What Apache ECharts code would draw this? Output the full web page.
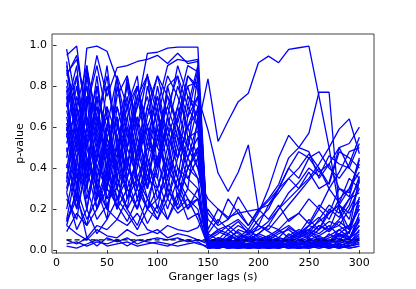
<!DOCTYPE html>
<html>
<head>
<meta charset="utf-8">
<script src="https://cdn.jsdelivr.net/npm/echarts@6/dist/echarts.min.js"></script>
<style>
  html, body { margin: 0; padding: 0; background: #fff; }
  #grangerChart { width: 416px; height: 289px; }
</style>
</head>
<body>
<div id="grangerChart"></div>
<script>
// lags in seconds (x)
const lags = [10, 20, 30, 40, 50, 60, 70, 80, 90, 100, 110, 120, 130, 140, 150,
  160, 170, 180, 190, 200, 210, 220, 230, 240, 250, 260, 270, 280, 290, 300];

const xTicks = [0, 50, 100, 150, 200, 250, 300];
const yTicks = [0, 0.2, 0.4, 0.6, 0.8, 1.0];

// significance threshold
const alpha = 0.05;

// p-values, one row per pair
const pValueRuns = [
  [.95, .995, .60, .40, .55, .70, .50, .70, .96, .965, .985, .99, .99, .99, .03, .01, .02, .01, .02, .03, .01, .02, .01, .02, .04, .02, .01, .03, .02, .05],
  [.92, .50, .985, .995, .97, .83, .60, .35, .50, .70, .90, .93, .92, .93, .02, .04, .03, .05, .02, .01, .02, .03, .06, .08, .12, .10, .18, .22, .30, .42],
  [.86, .93, .70, .95, .75, .89, .90, .92, .93, .95, .91, .96, .91, .92, .01, .02, .01, .01, .02, .01, .01, .02, .01, .01, .02, .03, .02, .01, .02, .03],
  [.75, .30, .85, .55, .20, .45, .82, .60, .86, .40, .80, .85, .70, .90, .05, .08, .12, .15, .10, .06, .04, .03, .05, .07, .10, .05, .03, .08, .12, .20],
  [.40, .65, .30, .80, .55, .35, .60, .45, .70, .55, .75, .62, .80, .60, .835, .53, .63, .724, .765, .914, .946, .914, .979, .987, .995, .75, .50, .20, .05, .15],
  [.55, .80, .45, .25, .60, .85, .40, .30, .55, .75, .50, .35, .65, .75, .586, .376, .286, .38, .513, .197, .25, .32, .45, .50, .48, .35, .42, .30, .28, .45],
  [.98, .70, .35, .60, .90, .50, .25, .45, .80, .60, .30, .55, .85, .80, .02, .01, .03, .02, .01, .02, .03, .01, .02, .05, .03, .02, .04, .06, .03, .10],
  [.65, .40, .90, .30, .15, .55, .70, .85, .40, .20, .45, .70, .50, .85, .06, .10, .08, .12, .09, .07, .05, .08, .10, .06, .12, .20, .15, .25, .30, .38],
  [.50, .20, .40, .75, .35, .20, .50, .80, .60, .35, .65, .90, .75, .70, .01, .03, .02, .04, .03, .02, .04, .02, .03, .04, .02, .05, .03, .02, .04, .06],
  [.30, .55, .80, .50, .25, .40, .65, .35, .20, .45, .60, .40, .30, .65, .04, .02, .06, .03, .05, .08, .06, .04, .07, .10, .08, .15, .22, .18, .25, .33],
  [.88, .60, .25, .45, .70, .30, .55, .75, .50, .80, .55, .25, .45, .55, .03, .05, .02, .04, .06, .03, .05, .02, .04, .03, .05, .07, .04, .10, .06, .14],
  [.45, .75, .55, .20, .40, .65, .30, .20, .35, .55, .35, .60, .40, .50, .10, .20, .15, .26, .18, .12, .22, .30, .40, .35, .45, .48, .40, .35, .42, .55],
  [.62, .35, .50, .85, .45, .75, .85, .55, .30, .65, .85, .75, .60, .45, .02, .03, .05, .02, .03, .01, .03, .05, .02, .04, .06, .03, .08, .05, .09, .22],
  [.20, .45, .65, .35, .50, .25, .35, .60, .75, .50, .40, .30, .55, .40, .18, .12, .15, .20, .12, .19, .24, .30, .35, .40, .47, .40, .32, .48, .45, .40],
  [.70, .90, .40, .65, .30, .50, .75, .40, .65, .85, .65, .50, .35, .30, .01, .02, .01, .03, .01, .02, .01, .03, .02, .01, .03, .02, .01, .02, .01, .02],
  [.35, .60, .20, .45, .80, .60, .45, .25, .45, .30, .50, .65, .80, .82, .05, .03, .08, .05, .07, .04, .06, .09, .12, .08, .15, .10, .20, .16, .25, .28],
  [.80, .55, .75, .25, .35, .80, .55, .70, .85, .70, .25, .45, .60, .75, .02, .01, .02, .04, .01, .02, .01, .02, .03, .02, .01, .02, .03, .02, .04, .08],
  [.15, .40, .30, .55, .65, .35, .20, .50, .30, .60, .70, .55, .45, .35, .25, .20, .16, .18, .19, .20, .22, .28, .35, .30, .38, .30, .33, .50, .40, .35],
  [.58, .85, .50, .70, .40, .25, .40, .65, .45, .25, .35, .20, .30, .25, .03, .04, .03, .05, .04, .03, .06, .04, .05, .08, .06, .10, .14, .12, .20, .30],
  [.25, .15, .45, .30, .20, .40, .30, .20, .40, .35, .20, .35, .25, .20, .01, .01, .02, .01, .01, .02, .01, .01, .02, .01, .02, .01, .02, .01, .03, .05],
  [.90, .65, .80, .35, .60, .45, .70, .80, .55, .40, .60, .80, .65, .88, .08, .05, .10, .06, .08, .05, .07, .10, .06, .09, .07, .12, .09, .14, .10, .24],
  [.42, .25, .60, .40, .30, .70, .50, .35, .25, .40, .55, .45, .70, .60, .02, .04, .02, .03, .05, .02, .04, .03, .08, .05, .07, .12, .10, .15, .22, .36],
  [.68, .45, .20, .50, .70, .55, .25, .40, .70, .85, .75, .60, .50, .70, .04, .06, .05, .07, .06, .05, .04, .06, .05, .07, .10, .08, .12, .07, .09, .16],
  [.12, .30, .15, .25, .40, .20, .30, .45, .25, .15, .30, .20, .25, .15, .02, .05, .03, .06, .10, .18, .30, .45, .56, .50, .57, .77, .77, .20, .10, .35],
  [.28, .50, .35, .60, .25, .30, .45, .25, .35, .30, .45, .30, .20, .30, .01, .02, .03, .02, .03, .04, .02, .03, .05, .03, .04, .02, .05, .03, .06, .12],
  [.78, .35, .60, .80, .50, .65, .35, .55, .40, .60, .35, .50, .75, .65, .06, .09, .07, .05, .08, .10, .14, .20, .28, .33, .40, .36, .46, .42, .40, .52],
  [.52, .70, .90, .60, .85, .50, .60, .30, .20, .25, .40, .65, .85, .78, .03, .02, .04, .03, .02, .04, .03, .02, .04, .03, .05, .04, .06, .08, .05, .18],
  [.38, .20, .55, .70, .45, .30, .20, .30, .50, .45, .25, .40, .35, .45, .02, .03, .01, .02, .03, .02, .05, .03, .02, .03, .02, .04, .03, .05, .04, .07],
  [.14, .25, .12, .35, .20, .15, .25, .35, .20, .30, .15, .25, .40, .35, .01, .02, .04, .02, .05, .08, .12, .20, .25, .30, .35, .42, .50, .59, .64, .47],
  [.60, .30, .70, .90, .65, .40, .85, .60, .35, .55, .70, .85, .55, .58, .05, .04, .06, .09, .05, .08, .12, .10, .15, .18, .13, .22, .18, .30, .26, .44],
  [.85, .95, .65, .45, .30, .60, .80, .50, .60, .40, .65, .45, .60, .68, .03, .02, .05, .10, .08, .15, .20, .30, .40, .48, .45, .38, .42, .50, .52, .60],
  [.48, .60, .40, .20, .35, .50, .40, .75, .85, .65, .50, .35, .20, .25, .02, .03, .02, .01, .03, .02, .01, .03, .02, .01, .03, .04, .02, .03, .02, .04],
  [.02, .01, .03, .05, .02, .03, .04, .02, .03, .04, .03, .02, .03, .04, .01, .02, .01, .02, .01, .01, .02, .01, .02, .01, .01, .02, .01, .02, .01, .02],
  [.03, .04, .02, .04, .03, .05, .02, .05, .04, .03, .02, .04, .05, .03, .02, .01, .03, .01, .02, .03, .02, .04, .02, .03, .04, .06, .04, .07, .05, .12],
  [.05, .03, .06, .02, .06, .04, .06, .03, .05, .06, .05, .06, .04, .05, .03, .02, .04, .03, .05, .03, .04, .02, .03, .05, .04, .03, .05, .04, .06, .09],
  [.12, .08, .05, .10, .07, .06, .10, .07, .08, .10, .06, .08, .07, .05, .04, .05, .03, .06, .04, .05, .07, .05, .04, .06, .09, .07, .10, .12, .08, .26],
  [.14, .28, .06, .12, .10, .15, .12, .18, .10, .08, .12, .10, .09, .11, .20, .13, .25, .18, .12, .20, .15, .22, .14, .18, .25, .20, .30, .23, .35, .30],
  [.28, .10, .20, .08, .15, .25, .18, .10, .20, .15, .25, .18, .22, .25, .08, .15, .10, .14, .08, .12, .10, .16, .22, .28, .34, .40, .30, .38, .48, .50],
  [.09, .18, .12, .20, .30, .22, .14, .25, .13, .22, .15, .28, .15, .18, .02, .04, .02, .03, .02, .04, .03, .02, .03, .05, .03, .06, .04, .08, .06, .15],
  [.70, .85, .30, .15, .22, .35, .20, .12, .25, .18, .30, .22, .40, .50, .03, .06, .04, .03, .05, .06, .04, .06, .05, .08, .10, .14, .18, .22, .15, .34],
  [.33, .70, .50, .30, .55, .35, .65, .80, .60, .75, .55, .70, .90, .87, .02, .01, .02, .03, .01, .02, .04, .02, .01, .03, .02, .01, .02, .04, .03, .06],
  [.72, .48, .88, .65, .40, .85, .70, .45, .60, .50, .80, .60, .45, .62, .04, .03, .05, .04, .06, .05, .03, .05, .04, .06, .08, .05, .07, .10, .12, .20],
  [.57, .25, .75, .65, .45, .20, .50, .65, .30, .45, .60, .55, .40, .48, .01, .03, .02, .01, .02, .03, .02, .01, .03, .02, .01, .03, .02, .01, .02, .03],
  [.83, .58, .35, .75, .60, .40, .35, .20, .45, .70, .40, .30, .50, .40, .15, .10, .12, .08, .05, .12, .09, .06, .11, .08, .12, .16, .10, .22, .18, .25]
];

const chart = echarts.init(document.getElementById('grangerChart'), null, { renderer: 'canvas' });

const runSeries = pValueRuns.map((run) => ({
  type: 'line',
  data: lags.map((lag, i) => [lag, run[i]]),
  showSymbol: false,
  silent: true,
  lineStyle: { color: '#0000ff', width: 1.3 },
}));

const option = {
  animation: false,
  grid: {
    left: 52, right: 42, top: 34, bottom: 36,
    show: true, borderColor: '#444', borderWidth: 1,
  },
  xAxis: {
    type: 'value',
    min: -4.5,
    max: 314.5,
    name: 'Granger lags (s)',
    nameLocation: 'middle',
    nameGap: 19,
    nameMoveOverlap: false,
    nameTextStyle: { fontFamily: 'DejaVu Sans', fontSize: 11, color: '#000' },
    axisLine: { show: false },
    splitLine: { show: false },
    axisTick: { customValues: xTicks, length: 3.5, lineStyle: { color: '#333' } },
    axisLabel: { customValues: xTicks, fontFamily: 'DejaVu Sans', fontSize: 11, color: '#000', margin: 5 },
  },
  yAxis: {
    type: 'value',
    min: -0.014,
    max: 1.054,
    name: 'p-value',
    nameLocation: 'middle',
    nameGap: 26,
    nameMoveOverlap: false,
    nameTextStyle: { fontFamily: 'DejaVu Sans', fontSize: 11, color: '#000' },
    axisLine: { show: false },
    splitLine: { show: false },
    axisTick: { customValues: yTicks, length: 3.5, lineStyle: { color: '#333' } },
    axisLabel: {
      customValues: yTicks, fontFamily: 'DejaVu Sans', fontSize: 11, color: '#000', margin: 5,
      formatter: (v) => v.toFixed(1),
    },
  },
  series: [
    ...runSeries,
    {
      type: 'line',
      data: [[lags[0], alpha], [lags[lags.length - 1], alpha]],
      showSymbol: false,
      silent: true,
      z: 10,
      lineStyle: { color: '#000', width: 1.3, type: [5, 3] },
    },
  ],
};

chart.setOption(option);
</script>
</body>
</html>
